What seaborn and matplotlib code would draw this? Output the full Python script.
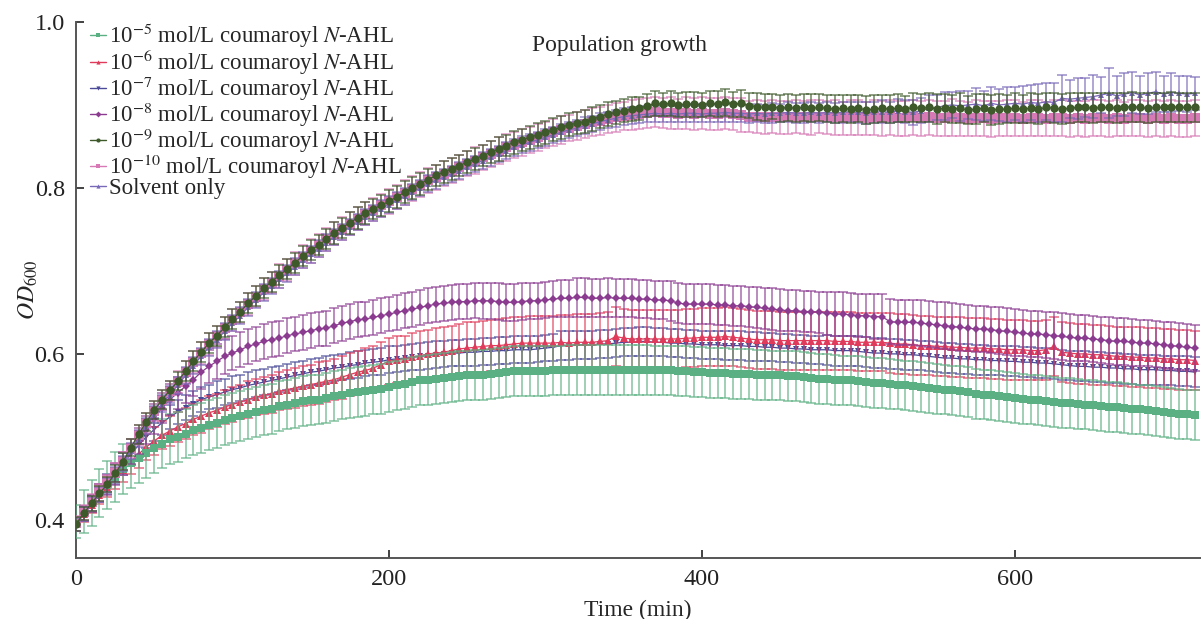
import numpy as np
import pandas as pd
import matplotlib
matplotlib.use("Agg")
import matplotlib.pyplot as plt
from matplotlib.lines import Line2D
import seaborn as sns

# sampling every 5 min
time_min = list(range(0, 720, 5))

# OD600 means
od_1e5 = [
    0.398, 0.410, 0.420, 0.432, 0.442, 0.452, 0.461, 0.468, 0.475, 0.481, 0.487, 0.492,
    0.497, 0.500, 0.504, 0.508, 0.511, 0.514, 0.517, 0.520, 0.523, 0.525, 0.528, 0.530,
    0.532, 0.534, 0.537, 0.539, 0.541, 0.543, 0.544, 0.545, 0.547, 0.549, 0.551, 0.553,
    0.554, 0.555, 0.557, 0.558, 0.560, 0.562, 0.564, 0.566, 0.568, 0.569, 0.570, 0.571,
    0.572, 0.573, 0.574, 0.575, 0.575, 0.576, 0.577, 0.578, 0.579, 0.579, 0.579, 0.579,
    0.579, 0.580, 0.580, 0.581, 0.581, 0.581, 0.581, 0.581, 0.581, 0.581, 0.581, 0.581,
    0.581, 0.581, 0.580, 0.580, 0.580, 0.579, 0.579, 0.578, 0.578, 0.577, 0.577, 0.577,
    0.576, 0.576, 0.576, 0.575, 0.575, 0.574, 0.574, 0.573, 0.573, 0.572, 0.571, 0.570,
    0.570, 0.569, 0.568, 0.568, 0.567, 0.566, 0.565, 0.565, 0.564, 0.563, 0.562, 0.561,
    0.560, 0.559, 0.558, 0.557, 0.556, 0.555, 0.554, 0.552, 0.551, 0.550, 0.549, 0.548,
    0.547, 0.546, 0.545, 0.544, 0.543, 0.542, 0.541, 0.541, 0.540, 0.539, 0.538, 0.537,
    0.536, 0.536, 0.535, 0.534, 0.533, 0.532, 0.531, 0.530, 0.529, 0.528, 0.527, 0.526]
od_1e6 = [
    0.395, 0.407, 0.418, 0.430, 0.440, 0.450, 0.460, 0.470, 0.479, 0.488, 0.495, 0.502,
    0.507, 0.512, 0.516, 0.521, 0.525, 0.529, 0.532, 0.536, 0.539, 0.542, 0.545, 0.548,
    0.550, 0.552, 0.555, 0.557, 0.559, 0.561, 0.563, 0.565, 0.567, 0.569, 0.572, 0.575,
    0.578, 0.580, 0.583, 0.587, 0.591, 0.593, 0.594, 0.596, 0.598, 0.600, 0.601, 0.602,
    0.604, 0.606, 0.607, 0.608, 0.609, 0.610, 0.610, 0.611, 0.612, 0.613, 0.613, 0.613,
    0.613, 0.613, 0.614, 0.613, 0.614, 0.614, 0.614, 0.615, 0.616, 0.621, 0.619, 0.618,
    0.618, 0.618, 0.618, 0.618, 0.618, 0.618, 0.619, 0.619, 0.620, 0.620, 0.620, 0.621,
    0.620, 0.619, 0.618, 0.617, 0.617, 0.617, 0.616, 0.616, 0.616, 0.616, 0.616, 0.616,
    0.616, 0.615, 0.615, 0.615, 0.614, 0.614, 0.614, 0.614, 0.613, 0.612, 0.612, 0.611,
    0.610, 0.610, 0.609, 0.609, 0.608, 0.608, 0.607, 0.607, 0.607, 0.606, 0.606, 0.605,
    0.605, 0.605, 0.604, 0.604, 0.605, 0.609, 0.602, 0.601, 0.600, 0.600, 0.599, 0.599,
    0.598, 0.597, 0.597, 0.596, 0.596, 0.595, 0.595, 0.594, 0.594, 0.593, 0.593, 0.592]
od_1e7 = [
    0.395, 0.408, 0.420, 0.432, 0.443, 0.455, 0.467, 0.479, 0.490, 0.500, 0.509, 0.517,
    0.524, 0.530, 0.535, 0.540, 0.545, 0.548, 0.551, 0.554, 0.557, 0.559, 0.562, 0.564,
    0.566, 0.568, 0.570, 0.572, 0.574, 0.576, 0.578, 0.579, 0.581, 0.583, 0.584, 0.586,
    0.587, 0.589, 0.590, 0.591, 0.593, 0.594, 0.595, 0.596, 0.597, 0.598, 0.599, 0.600,
    0.601, 0.601, 0.602, 0.602, 0.603, 0.603, 0.604, 0.604, 0.605, 0.605, 0.605, 0.606,
    0.607, 0.608, 0.610, 0.610, 0.611, 0.611, 0.611, 0.612, 0.612, 0.613, 0.614, 0.614,
    0.615, 0.615, 0.614, 0.614, 0.613, 0.613, 0.612, 0.612, 0.611, 0.611, 0.611, 0.610,
    0.610, 0.610, 0.609, 0.609, 0.608, 0.608, 0.607, 0.607, 0.606, 0.606, 0.605, 0.605,
    0.605, 0.604, 0.604, 0.604, 0.603, 0.602, 0.601, 0.601, 0.600, 0.600, 0.599, 0.599,
    0.598, 0.597, 0.596, 0.595, 0.595, 0.594, 0.594, 0.593, 0.593, 0.592, 0.592, 0.591,
    0.591, 0.590, 0.590, 0.589, 0.589, 0.588, 0.587, 0.586, 0.585, 0.585, 0.584, 0.584,
    0.583, 0.583, 0.582, 0.582, 0.581, 0.581, 0.581, 0.580, 0.580, 0.579, 0.579, 0.578]
od_1e8 = [
    0.395, 0.408, 0.420, 0.432, 0.442, 0.455, 0.468, 0.482, 0.495, 0.508, 0.522, 0.535,
    0.545, 0.553, 0.561, 0.569, 0.578, 0.585, 0.591, 0.597, 0.601, 0.605, 0.609, 0.612,
    0.615, 0.617, 0.619, 0.622, 0.624, 0.626, 0.628, 0.630, 0.631, 0.634, 0.637, 0.639,
    0.641, 0.642, 0.644, 0.646, 0.648, 0.650, 0.652, 0.654, 0.656, 0.658, 0.660, 0.661,
    0.662, 0.663, 0.663, 0.664, 0.664, 0.664, 0.663, 0.662, 0.662, 0.663, 0.664, 0.664,
    0.665, 0.666, 0.667, 0.667, 0.668, 0.668, 0.667, 0.667, 0.668, 0.667, 0.667, 0.667,
    0.666, 0.666, 0.665, 0.665, 0.664, 0.661, 0.660, 0.660, 0.660, 0.660, 0.659, 0.659,
    0.658, 0.658, 0.657, 0.656, 0.655, 0.654, 0.653, 0.652, 0.652, 0.651, 0.651, 0.650,
    0.649, 0.648, 0.648, 0.647, 0.646, 0.646, 0.645, 0.645, 0.639, 0.638, 0.638, 0.638,
    0.637, 0.636, 0.635, 0.634, 0.633, 0.632, 0.631, 0.630, 0.630, 0.629, 0.628, 0.627,
    0.626, 0.625, 0.624, 0.624, 0.623, 0.622, 0.621, 0.620, 0.619, 0.619, 0.618, 0.617,
    0.616, 0.615, 0.615, 0.614, 0.613, 0.613, 0.612, 0.611, 0.610, 0.609, 0.608, 0.607]
od_1e9 = [
    0.395, 0.408, 0.420, 0.432, 0.443, 0.456, 0.470, 0.487, 0.503, 0.518, 0.532, 0.545,
    0.556, 0.567, 0.579, 0.591, 0.602, 0.613, 0.622, 0.632, 0.642, 0.651, 0.661, 0.670,
    0.679, 0.687, 0.695, 0.702, 0.710, 0.718, 0.725, 0.731, 0.738, 0.746, 0.752, 0.758,
    0.764, 0.770, 0.775, 0.779, 0.784, 0.789, 0.795, 0.800, 0.805, 0.810, 0.815, 0.819,
    0.823, 0.827, 0.831, 0.835, 0.839, 0.843, 0.847, 0.851, 0.855, 0.858, 0.861, 0.864,
    0.867, 0.870, 0.873, 0.876, 0.878, 0.880, 0.883, 0.886, 0.889, 0.891, 0.893, 0.895,
    0.896, 0.899, 0.902, 0.901, 0.902, 0.900, 0.901, 0.901, 0.900, 0.902, 0.901, 0.903,
    0.901, 0.902, 0.899, 0.898, 0.897, 0.898, 0.896, 0.897, 0.896, 0.897, 0.896, 0.897,
    0.896, 0.895, 0.896, 0.895, 0.896, 0.894, 0.895, 0.896, 0.895, 0.896, 0.895, 0.897,
    0.896, 0.897, 0.895, 0.896, 0.895, 0.896, 0.894, 0.895, 0.896, 0.894, 0.895, 0.895,
    0.896, 0.895, 0.896, 0.895, 0.897, 0.896, 0.895, 0.896, 0.897, 0.897, 0.896, 0.897,
    0.897, 0.896, 0.897, 0.898, 0.897, 0.896, 0.897, 0.897, 0.898, 0.897, 0.897, 0.897]
od_1e10 = [
    0.396, 0.409, 0.421, 0.433, 0.444, 0.457, 0.471, 0.486, 0.502, 0.517, 0.531, 0.544,
    0.555, 0.566, 0.578, 0.590, 0.601, 0.612, 0.621, 0.631, 0.641, 0.650, 0.660, 0.669,
    0.678, 0.686, 0.694, 0.701, 0.709, 0.717, 0.724, 0.731, 0.738, 0.745, 0.751, 0.757,
    0.763, 0.769, 0.774, 0.779, 0.784, 0.789, 0.794, 0.799, 0.804, 0.809, 0.813, 0.817,
    0.821, 0.825, 0.829, 0.833, 0.837, 0.841, 0.845, 0.849, 0.852, 0.855, 0.858, 0.861,
    0.864, 0.867, 0.870, 0.872, 0.875, 0.877, 0.879, 0.881, 0.883, 0.885, 0.887, 0.888,
    0.889, 0.890, 0.891, 0.890, 0.890, 0.889, 0.890, 0.889, 0.890, 0.889, 0.889, 0.890,
    0.889, 0.888, 0.886, 0.886, 0.885, 0.886, 0.885, 0.885, 0.886, 0.885, 0.885, 0.886,
    0.885, 0.885, 0.884, 0.885, 0.885, 0.884, 0.885, 0.884, 0.885, 0.884, 0.884, 0.885,
    0.884, 0.885, 0.884, 0.884, 0.885, 0.884, 0.883, 0.884, 0.884, 0.883, 0.884, 0.884,
    0.884, 0.883, 0.884, 0.884, 0.883, 0.884, 0.884, 0.883, 0.884, 0.883, 0.884, 0.884,
    0.883, 0.884, 0.883, 0.884, 0.884, 0.883, 0.884, 0.883, 0.884, 0.883, 0.883, 0.884]
od_solvent = [
    0.394, 0.407, 0.419, 0.431, 0.442, 0.455, 0.468, 0.483, 0.498, 0.513, 0.527, 0.540,
    0.551, 0.562, 0.574, 0.586, 0.597, 0.608, 0.617, 0.627, 0.637, 0.646, 0.656, 0.665,
    0.674, 0.682, 0.690, 0.697, 0.705, 0.713, 0.720, 0.727, 0.734, 0.741, 0.747, 0.753,
    0.759, 0.765, 0.770, 0.775, 0.780, 0.785, 0.790, 0.795, 0.800, 0.805, 0.809, 0.813,
    0.817, 0.821, 0.825, 0.829, 0.833, 0.837, 0.841, 0.845, 0.849, 0.852, 0.855, 0.858,
    0.861, 0.864, 0.867, 0.870, 0.872, 0.875, 0.877, 0.880, 0.882, 0.884, 0.886, 0.887,
    0.888, 0.889, 0.890, 0.889, 0.890, 0.889, 0.890, 0.890, 0.889, 0.890, 0.890, 0.891,
    0.890, 0.890, 0.889, 0.890, 0.889, 0.890, 0.890, 0.891, 0.890, 0.890, 0.891, 0.890,
    0.891, 0.890, 0.891, 0.892, 0.891, 0.890, 0.891, 0.892, 0.891, 0.893, 0.892, 0.891,
    0.893, 0.896, 0.897, 0.899, 0.900, 0.899, 0.900, 0.901, 0.899, 0.902, 0.900, 0.901,
    0.902, 0.901, 0.903, 0.902, 0.904, 0.903, 0.908, 0.907, 0.908, 0.909, 0.910, 0.912,
    0.914, 0.911, 0.913, 0.915, 0.912, 0.914, 0.916, 0.913, 0.915, 0.914, 0.913, 0.914]

# standard deviations (error bar half-lengths)
sd_1e5 = [
    0.020, 0.026, 0.028, 0.029, 0.029, 0.030, 0.030, 0.030, 0.030, 0.030, 0.030, 0.030,
    0.030, 0.030, 0.030, 0.030, 0.030, 0.030, 0.030, 0.030, 0.030, 0.030, 0.030, 0.030,
    0.030, 0.030, 0.030, 0.030, 0.030, 0.030, 0.030, 0.030, 0.030, 0.030, 0.030, 0.030,
    0.030, 0.030, 0.030, 0.030, 0.030, 0.030, 0.030, 0.030, 0.030, 0.030, 0.030, 0.030,
    0.030, 0.030, 0.030, 0.030, 0.030, 0.030, 0.030, 0.030, 0.030, 0.030, 0.030, 0.030,
    0.030, 0.030, 0.030, 0.030, 0.030, 0.030, 0.030, 0.030, 0.030, 0.030, 0.030, 0.030,
    0.030, 0.030, 0.030, 0.030, 0.030, 0.030, 0.030, 0.030, 0.030, 0.030, 0.030, 0.030,
    0.030, 0.030, 0.030, 0.030, 0.030, 0.030, 0.030, 0.030, 0.030, 0.030, 0.030, 0.030,
    0.030, 0.030, 0.030, 0.030, 0.030, 0.030, 0.030, 0.030, 0.030, 0.030, 0.030, 0.030,
    0.030, 0.030, 0.030, 0.030, 0.030, 0.030, 0.030, 0.030, 0.030, 0.030, 0.030, 0.030,
    0.030, 0.030, 0.030, 0.030, 0.030, 0.030, 0.030, 0.030, 0.030, 0.030, 0.030, 0.030,
    0.030, 0.030, 0.030, 0.030, 0.030, 0.030, 0.030, 0.030, 0.030, 0.030, 0.030, 0.030]
sd_1e6 = [
    0.008, 0.009, 0.010, 0.011, 0.012, 0.013, 0.014, 0.015, 0.016, 0.016, 0.017, 0.017,
    0.018, 0.018, 0.019, 0.019, 0.020, 0.020, 0.020, 0.021, 0.021, 0.021, 0.022, 0.022,
    0.022, 0.023, 0.023, 0.023, 0.024, 0.024, 0.024, 0.025, 0.025, 0.025, 0.026, 0.026,
    0.026, 0.027, 0.027, 0.027, 0.028, 0.028, 0.028, 0.029, 0.029, 0.029, 0.030, 0.030,
    0.030, 0.030, 0.031, 0.031, 0.031, 0.031, 0.032, 0.032, 0.032, 0.032, 0.033, 0.033,
    0.033, 0.033, 0.033, 0.034, 0.034, 0.034, 0.034, 0.034, 0.034, 0.035, 0.035, 0.035,
    0.035, 0.035, 0.035, 0.035, 0.035, 0.035, 0.035, 0.035, 0.035, 0.035, 0.035, 0.035,
    0.035, 0.035, 0.035, 0.035, 0.035, 0.035, 0.035, 0.035, 0.035, 0.035, 0.035, 0.035,
    0.035, 0.035, 0.035, 0.035, 0.035, 0.035, 0.035, 0.035, 0.036, 0.036, 0.036, 0.036,
    0.036, 0.036, 0.036, 0.036, 0.036, 0.036, 0.036, 0.036, 0.036, 0.036, 0.036, 0.036,
    0.036, 0.036, 0.036, 0.036, 0.036, 0.036, 0.036, 0.036, 0.036, 0.036, 0.036, 0.036,
    0.036, 0.036, 0.036, 0.036, 0.036, 0.036, 0.036, 0.036, 0.036, 0.036, 0.036, 0.036]
sd_1e7 = [
    0.008, 0.009, 0.010, 0.011, 0.012, 0.012, 0.013, 0.013, 0.014, 0.014, 0.014, 0.015,
    0.015, 0.015, 0.015, 0.015, 0.015, 0.015, 0.016, 0.016, 0.016, 0.016, 0.016, 0.016,
    0.016, 0.016, 0.016, 0.016, 0.016, 0.016, 0.016, 0.016, 0.016, 0.016, 0.016, 0.016,
    0.016, 0.016, 0.016, 0.016, 0.016, 0.016, 0.016, 0.016, 0.016, 0.016, 0.016, 0.016,
    0.016, 0.016, 0.016, 0.016, 0.016, 0.016, 0.016, 0.016, 0.016, 0.016, 0.016, 0.016,
    0.016, 0.016, 0.017, 0.017, 0.017, 0.017, 0.017, 0.017, 0.017, 0.017, 0.017, 0.017,
    0.017, 0.017, 0.017, 0.017, 0.017, 0.017, 0.017, 0.017, 0.017, 0.017, 0.017, 0.017,
    0.017, 0.017, 0.017, 0.017, 0.017, 0.017, 0.017, 0.017, 0.017, 0.017, 0.017, 0.017,
    0.018, 0.018, 0.018, 0.018, 0.018, 0.018, 0.018, 0.018, 0.018, 0.018, 0.018, 0.018,
    0.018, 0.018, 0.018, 0.018, 0.018, 0.018, 0.018, 0.018, 0.018, 0.018, 0.018, 0.018,
    0.018, 0.018, 0.018, 0.018, 0.018, 0.018, 0.018, 0.018, 0.018, 0.018, 0.018, 0.018,
    0.018, 0.018, 0.018, 0.018, 0.018, 0.018, 0.018, 0.018, 0.018, 0.018, 0.018, 0.018]
sd_1e8 = [
    0.008, 0.009, 0.010, 0.011, 0.012, 0.013, 0.014, 0.015, 0.016, 0.017, 0.018, 0.018,
    0.019, 0.019, 0.020, 0.020, 0.020, 0.020, 0.021, 0.021, 0.021, 0.021, 0.021, 0.021,
    0.021, 0.021, 0.021, 0.021, 0.021, 0.021, 0.021, 0.021, 0.021, 0.021, 0.021, 0.021,
    0.021, 0.021, 0.021, 0.021, 0.021, 0.021, 0.021, 0.021, 0.021, 0.021, 0.021, 0.021,
    0.021, 0.021, 0.021, 0.021, 0.022, 0.022, 0.022, 0.022, 0.022, 0.022, 0.022, 0.022,
    0.022, 0.022, 0.022, 0.022, 0.023, 0.023, 0.023, 0.023, 0.023, 0.023, 0.023, 0.023,
    0.023, 0.023, 0.023, 0.023, 0.024, 0.024, 0.024, 0.024, 0.024, 0.024, 0.024, 0.024,
    0.024, 0.024, 0.024, 0.025, 0.025, 0.025, 0.025, 0.025, 0.025, 0.025, 0.025, 0.025,
    0.026, 0.026, 0.026, 0.026, 0.026, 0.026, 0.027, 0.027, 0.027, 0.027, 0.027, 0.027,
    0.028, 0.028, 0.028, 0.028, 0.028, 0.028, 0.028, 0.028, 0.028, 0.028, 0.028, 0.028,
    0.028, 0.028, 0.028, 0.028, 0.028, 0.028, 0.028, 0.028, 0.028, 0.028, 0.028, 0.028,
    0.028, 0.028, 0.028, 0.028, 0.028, 0.028, 0.028, 0.028, 0.028, 0.028, 0.028, 0.028]
sd_1e9 = [
    0.008, 0.008, 0.009, 0.009, 0.009, 0.010, 0.010, 0.010, 0.011, 0.011, 0.011, 0.011,
    0.011, 0.011, 0.012, 0.012, 0.012, 0.012, 0.012, 0.012, 0.012, 0.012, 0.012, 0.012,
    0.012, 0.012, 0.012, 0.012, 0.012, 0.012, 0.012, 0.012, 0.012, 0.013, 0.012, 0.013,
    0.013, 0.013, 0.012, 0.013, 0.013, 0.013, 0.013, 0.013, 0.013, 0.013, 0.013, 0.013,
    0.013, 0.013, 0.013, 0.013, 0.013, 0.013, 0.014, 0.013, 0.014, 0.013, 0.014, 0.014,
    0.014, 0.014, 0.014, 0.014, 0.013, 0.014, 0.014, 0.014, 0.014, 0.014, 0.014, 0.014,
    0.014, 0.014, 0.015, 0.014, 0.015, 0.014, 0.015, 0.015, 0.014, 0.015, 0.016, 0.016,
    0.015, 0.016, 0.015, 0.016, 0.016, 0.015, 0.016, 0.016, 0.016, 0.016, 0.017, 0.016,
    0.016, 0.017, 0.016, 0.017, 0.016, 0.017, 0.017, 0.016, 0.017, 0.017, 0.016, 0.017,
    0.017, 0.017, 0.018, 0.017, 0.017, 0.018, 0.017, 0.018, 0.017, 0.018, 0.018, 0.017,
    0.018, 0.017, 0.018, 0.018, 0.017, 0.018, 0.018, 0.018, 0.017, 0.018, 0.018, 0.018,
    0.018, 0.018, 0.017, 0.018, 0.018, 0.018, 0.017, 0.018, 0.018, 0.018, 0.018, 0.018]
sd_1e10 = [
    0.009, 0.009, 0.010, 0.010, 0.010, 0.011, 0.011, 0.011, 0.012, 0.012, 0.012, 0.012,
    0.012, 0.013, 0.013, 0.013, 0.013, 0.013, 0.013, 0.013, 0.013, 0.013, 0.013, 0.013,
    0.013, 0.013, 0.014, 0.013, 0.014, 0.014, 0.014, 0.014, 0.014, 0.014, 0.014, 0.014,
    0.014, 0.014, 0.014, 0.014, 0.015, 0.014, 0.015, 0.015, 0.015, 0.015, 0.015, 0.015,
    0.015, 0.015, 0.015, 0.016, 0.015, 0.016, 0.016, 0.016, 0.016, 0.016, 0.016, 0.016,
    0.016, 0.016, 0.017, 0.016, 0.017, 0.017, 0.017, 0.017, 0.017, 0.017, 0.017, 0.018,
    0.018, 0.018, 0.018, 0.018, 0.019, 0.018, 0.019, 0.019, 0.019, 0.019, 0.019, 0.019,
    0.019, 0.020, 0.019, 0.020, 0.020, 0.020, 0.020, 0.020, 0.020, 0.020, 0.021, 0.020,
    0.020, 0.021, 0.020, 0.021, 0.021, 0.020, 0.021, 0.021, 0.021, 0.021, 0.021, 0.021,
    0.021, 0.021, 0.021, 0.021, 0.022, 0.021, 0.021, 0.022, 0.021, 0.022, 0.021, 0.022,
    0.022, 0.021, 0.022, 0.022, 0.021, 0.022, 0.022, 0.022, 0.021, 0.022, 0.022, 0.022,
    0.022, 0.022, 0.021, 0.022, 0.022, 0.022, 0.022, 0.022, 0.022, 0.022, 0.022, 0.022]
sd_solvent = [
    0.008, 0.008, 0.008, 0.009, 0.009, 0.009, 0.009, 0.010, 0.010, 0.010, 0.010, 0.010,
    0.010, 0.010, 0.010, 0.010, 0.010, 0.010, 0.010, 0.010, 0.010, 0.010, 0.010, 0.010,
    0.010, 0.010, 0.010, 0.010, 0.010, 0.010, 0.010, 0.010, 0.010, 0.010, 0.010, 0.010,
    0.010, 0.010, 0.010, 0.010, 0.010, 0.010, 0.010, 0.010, 0.010, 0.010, 0.010, 0.010,
    0.010, 0.010, 0.010, 0.010, 0.010, 0.010, 0.010, 0.010, 0.010, 0.010, 0.010, 0.010,
    0.010, 0.010, 0.010, 0.010, 0.010, 0.010, 0.010, 0.010, 0.010, 0.010, 0.010, 0.010,
    0.010, 0.010, 0.010, 0.010, 0.010, 0.010, 0.010, 0.011, 0.010, 0.011, 0.011, 0.011,
    0.011, 0.011, 0.011, 0.011, 0.011, 0.012, 0.011, 0.012, 0.012, 0.012, 0.012, 0.012,
    0.012, 0.012, 0.013, 0.012, 0.013, 0.013, 0.013, 0.014, 0.013, 0.014, 0.014, 0.015,
    0.015, 0.016, 0.015, 0.017, 0.016, 0.018, 0.017, 0.019, 0.018, 0.020, 0.019, 0.021,
    0.020, 0.022, 0.021, 0.023, 0.022, 0.024, 0.028, 0.023, 0.025, 0.024, 0.026, 0.022,
    0.030, 0.024, 0.026, 0.025, 0.023, 0.025, 0.024, 0.022, 0.023, 0.021, 0.022, 0.020]

labels = [r"10$^{-5}$ mol/L coumaroyl $N$-AHL",
          r"10$^{-6}$ mol/L coumaroyl $N$-AHL",
          r"10$^{-7}$ mol/L coumaroyl $N$-AHL",
          r"10$^{-8}$ mol/L coumaroyl $N$-AHL",
          r"10$^{-9}$ mol/L coumaroyl $N$-AHL",
          r"10$^{-10}$ mol/L coumaroyl $N$-AHL",
          "Solvent only"]
colors = ["#5bb083", "#e03b5b", "#4a4a98", "#8b3c90", "#3e5a2b", "#d779b4", "#7a68b8"]
markers = ["s", "^", "v", "D", "o", "s", "^"]
msizes = [6.0, 6.0, 5.0, 4.3, 6.0, 6.5, 5.0]
zorders = [6, 5, 4, 7, 10, 8, 9]

means = [od_1e5, od_1e6, od_1e7, od_1e8, od_1e9, od_1e10, od_solvent]
sds = [sd_1e5, sd_1e6, sd_1e7, sd_1e8, sd_1e9, sd_1e10, sd_solvent]

sns.set_theme(style="ticks")
plt.rcParams["font.family"] = ["Liberation Serif", "DejaVu Serif"]
plt.rcParams["mathtext.fontset"] = "stix"

fig = plt.figure(figsize=(12.02, 6.19), dpi=100)
ax = fig.add_axes([0.0632, 0.0985, 0.9348, 0.866])

handles = []
for lab, c, m, ms, z, mu, sd in zip(labels, colors, markers, msizes, zorders, means, sds):
    ax.errorbar(time_min, mu, yerr=sd, fmt="none", ecolor=c, alpha=0.75,
                elinewidth=1.1, capsize=3.6, capthick=1.1, zorder=z - 0.5)
    sns.lineplot(x=time_min, y=mu, ax=ax, color=c, marker=m, markersize=ms,
                 markeredgewidth=0, linewidth=0.9, errorbar=None, zorder=z)
    handles.append(Line2D([0], [0], color=c, marker=m, markersize=3,
                          markeredgewidth=0, linewidth=1.0, label=lab))

ax.set_xlim(0, 718)
ax.set_ylim(0.354, 1.0)
ax.set_xticks([0, 200, 400, 600])
ax.set_yticks([0.4, 0.6, 0.8, 1.0])
ax.set_yticklabels(["0.4", "0.6", "0.8", "1.0"])
ax.tick_params(direction="in", length=6, width=1.2, labelsize=17.5, pad=8,
               colors="#222222")
for side in ["top", "right"]:
    ax.spines[side].set_visible(False)
for side in ["left", "bottom"]:
    ax.spines[side].set_color("#555555")
    ax.spines[side].set_linewidth(1.4)

ax.set_xlabel("Time (min)", fontsize=17, labelpad=7)
ax.set_ylabel(r"$OD_{\mathrm{600}}$", fontsize=17, labelpad=-4)
ax.text(0.484, 0.957, "Population growth", transform=ax.transAxes,
        ha="center", va="center", fontsize=17)

ax.legend(handles=handles, loc="upper left", bbox_to_anchor=(0.0, 1.028),
          frameon=False, fontsize=16.5, handlelength=0.7, handletextpad=0.15,
          labelspacing=-0.1, borderaxespad=0.2)

fig.savefig("out.png", dpi=100)
